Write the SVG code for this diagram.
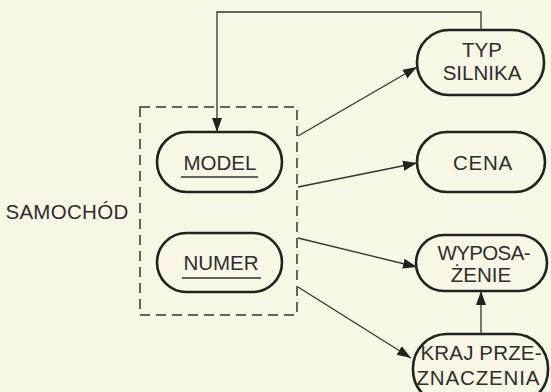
<svg xmlns="http://www.w3.org/2000/svg" width="551" height="392" viewBox="0 0 551 392">
<style>
.node{fill:none;stroke:#222;stroke-width:2.6}
.t{font-family:"Liberation Sans",Arial,sans-serif;font-size:20.5px;fill:#2e2e2e;text-anchor:middle}
.c{fill:none;stroke:#333;stroke-width:1.3}
.u{stroke:#333;stroke-width:1.5}
</style>
<defs>
<marker id="ah" markerUnits="userSpaceOnUse" markerWidth="16" markerHeight="12" refX="14" refY="6" orient="auto">
<path d="M0,1 L14,6 L0,11 Z" fill="#222"/>
</marker>
</defs>
<rect width="551" height="392" fill="#f8f6e4"/>
<g id="samochod">
<rect x="140" y="107" width="157" height="208" fill="none" stroke="#333" stroke-width="1.5" stroke-dasharray="10,6"/>
<text class="t" x="67" y="219" letter-spacing="0.3">SAMOCHÓD</text>
</g>
<g id="model">
<rect class="node" x="157" y="132" width="125" height="60" rx="30"/>
<text class="t" x="220" y="170">MODEL</text>
<line class="u" x1="181" y1="177" x2="258" y2="177"/>
</g>
<g id="numer">
<rect class="node" x="157" y="233" width="125" height="59" rx="29.5"/>
<text class="t" x="221" y="270">NUMER</text>
<line class="u" x1="182" y1="278" x2="261" y2="278"/>
</g>
<g id="typ-silnika">
<rect class="node" x="417" y="30" width="127" height="65" rx="32"/>
<text class="t" x="482" y="57">TYP</text>
<text class="t" x="482" y="80">SILNIKA</text>
</g>
<g id="cena">
<rect class="node" x="417" y="132" width="128" height="60" rx="30"/>
<text class="t" x="483" y="170" letter-spacing="0.8">CENA</text>
</g>
<g id="wyposazenie">
<rect class="node" x="416" y="235" width="131" height="56" rx="28"/>
<text class="t" x="484" y="260" textLength="93" lengthAdjust="spacing">WYPOSA-</text>
<text class="t" x="481" y="282">ŻENIE</text>
</g>
<g id="kraj">
<rect class="node" x="413" y="334" width="135" height="70" rx="34"/>
<text class="t" x="481" y="360" textLength="121" lengthAdjust="spacing">KRAJ PRZE-</text>
<text class="t" x="478" y="385" textLength="123" lengthAdjust="spacing">ZNACZENIA</text>
</g>
<g id="connectors">
<path class="c" d="M481,30 V12 H217 V132" marker-end="url(#ah)"/>
<path class="c" d="M298,136 L417,67" marker-end="url(#ah)"/>
<path class="c" d="M298,187 L417,163" marker-end="url(#ah)"/>
<path class="c" d="M298,238 L417,267" marker-end="url(#ah)"/>
<path class="c" d="M298,287 L411,358" marker-end="url(#ah)"/>
<path class="c" d="M481,334 V291" marker-end="url(#ah)"/>
</g>
</svg>
